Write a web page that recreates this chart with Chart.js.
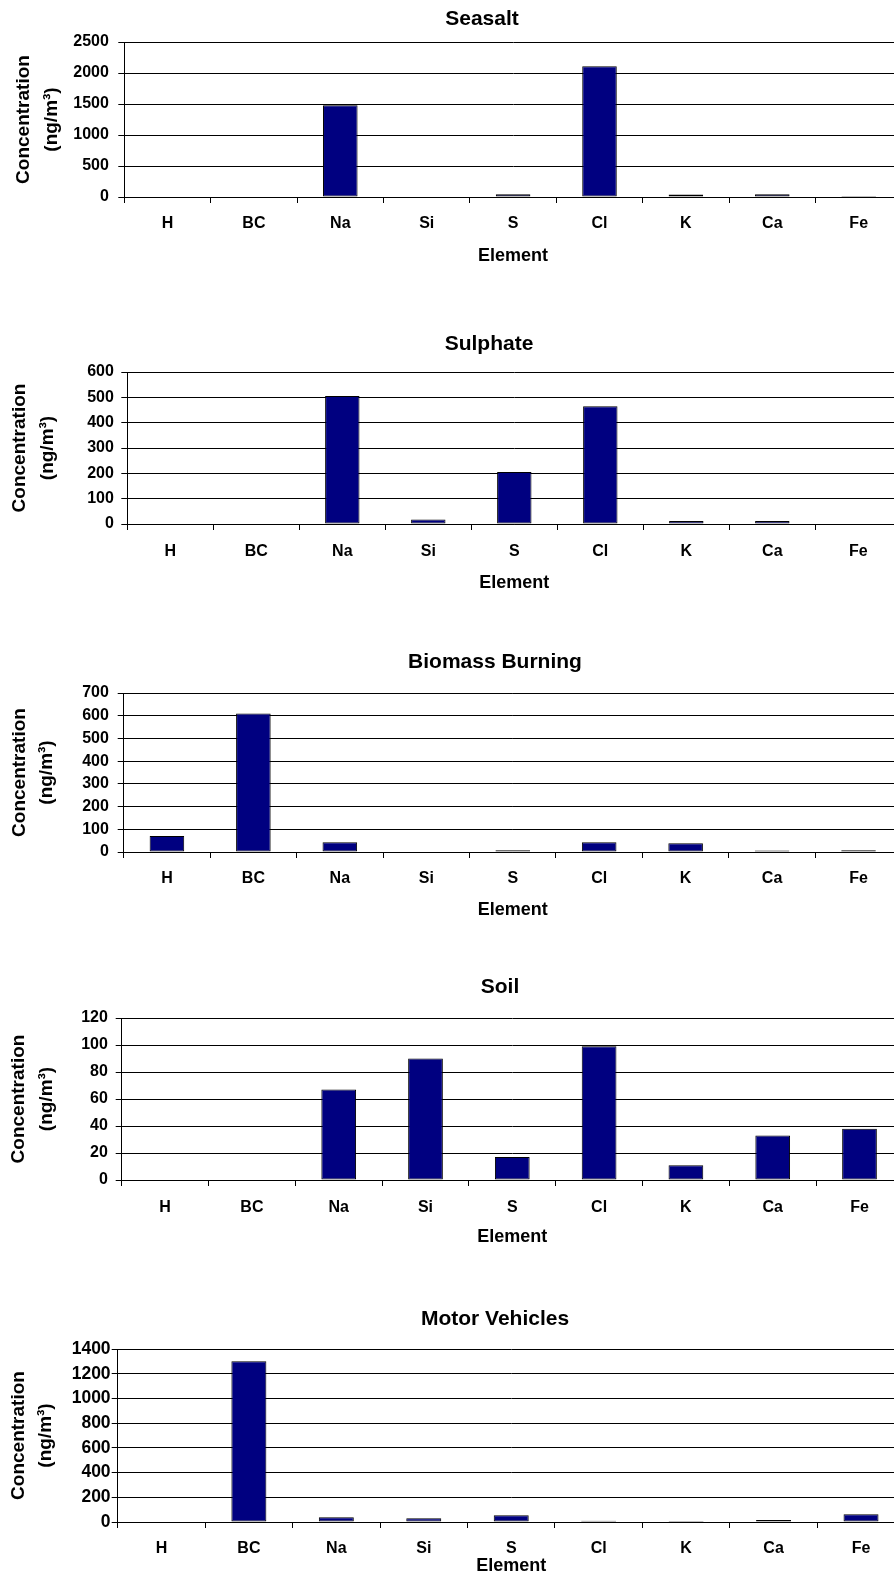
<!DOCTYPE html>
<html><head><meta charset="utf-8">
<script src="https://cdn.jsdelivr.net/npm/chart.js@4.4.1/dist/chart.umd.min.js"></script>
<style>
html,body{margin:0;padding:0;background:#fff;width:894px;height:1576px;overflow:hidden;position:relative;}
.panel{position:absolute;left:0;}
</style></head><body>
<script>
// ---- data ----
const elements = ['H','BC','Na','Si','S','Cl','K','Ca','Fe'];
const seasalt        = [0, 0, 1480, 0, 45, 2110, 40, 45, 15];
const sulphate       = [0, 0, 505, 18, 205, 465, 12, 12, 0];
const biomassBurning = [70, 610, 43, 0, 8, 43, 38, 7, 8];
const soil           = [0, 0, 67, 90, 17, 99, 11, 33, 38];
const motorVehicles  = [0, 1300, 38, 30, 54, 10, 8, 16, 62];

const seasaltTicks  = [0, 500, 1000, 1500, 2000, 2500];
const sulphateTicks = [0, 100, 200, 300, 400, 500, 600];
const biomassTicks  = [0, 100, 200, 300, 400, 500, 600, 700];
const soilTicks     = [0, 20, 40, 60, 80, 100, 120];
const motorTicks    = [0, 200, 400, 600, 800, 1000, 1200, 1400];

const panelTitles = ['Seasalt', 'Sulphate', 'Biomass Burning', 'Soil', 'Motor Vehicles'];
const yAxisTitle = ['Concentration', '(ng/m³)'];
const xAxisTitle = 'Element';

const seriesList = [seasalt, sulphate, biomassBurning, soil, motorVehicles];
const tickList = [seasaltTicks, sulphateTicks, biomassTicks, soilTicks, motorTicks];

// ---- layout (pixels on the page) ----
const layouts = [
  {titleX:482, titleY:19.5,  plotTop:42,   plotBottom:197,  plotLeft:124.3, catW:86.4,  xLabelY:224,  elemY:256, yTitleX:24,   yTickGap:16,   yTickFont:16},
  {titleX:489, titleY:344.5, plotTop:372,  plotBottom:524,  plotLeft:127.3, catW:86.0,  xLabelY:552,  elemY:583, yTitleX:20,   yTickGap:14,   yTickFont:16},
  {titleX:495, titleY:662.5, plotTop:693,  plotBottom:852,  plotLeft:123.7, catW:86.45, xLabelY:879,  elemY:910, yTitleX:19.5, yTickGap:15.4, yTickFont:16},
  {titleX:500, titleY:987,   plotTop:1018, plotBottom:1180, plotLeft:121.7, catW:86.8,  xLabelY:1208, elemY:1237, yTitleX:19,  yTickGap:14.4, yTickFont:16},
  {titleX:495, titleY:1319,  plotTop:1349, plotBottom:1522, plotLeft:117.7, catW:87.45, xLabelY:1549, elemY:1566, yTitleX:18.5, yTickGap:7.7, yTickFont:17.5}
];

Chart.defaults.font.family = "'Liberation Sans', Arial, sans-serif";
Chart.defaults.font.weight = 'bold';
Chart.defaults.color = '#000';

const TITLE_SIZE = 21, XTICK_SIZE = 16, XTITLE_SIZE = 18, YTITLE_SIZE = 19, YTITLE_LH = 1.45;

layouts.forEach((L, i) => {
  const top = Math.floor(L.titleY - 16);
  const bottom = Math.ceil(L.elemY + 13);
  const H = bottom - top;
  const W = Math.round(2 * L.titleX);
  const plotRight = L.plotLeft + 9 * L.catW;
  const div = document.createElement('div');
  div.className = 'panel';
  div.style.top = top + 'px';
  div.style.width = W + 'px';
  div.style.height = H + 'px';
  const cv = document.createElement('canvas');
  div.appendChild(cv);
  document.body.appendChild(div);
  const tLH = TITLE_SIZE * 1.2, xLH = XTICK_SIZE * 1.2, eLH = XTITLE_SIZE * 1.2, yLH = YTITLE_SIZE * YTITLE_LH;
  const ticks = tickList[i];
  new Chart(cv, {
    type: 'bar',
    data: {
      labels: elements,
      datasets: [{
        data: seriesList[i],
        backgroundColor: '#000080',
        borderColor: '#000000',
        borderWidth: 1,
        borderSkipped: false,
        barPercentage: 0.4,
        categoryPercentage: 1
      }]
    },
    options: {
      responsive: true,
      maintainAspectRatio: false,
      animation: false,
      layout: {padding: 0},
      plugins: {
        legend: {display: false},
        tooltip: {enabled: false},
        title: {
          display: true, text: panelTitles[i], color: '#000',
          font: {size: TITLE_SIZE, weight: 'bold', lineHeight: 1.2},
          padding: {top: L.titleY - top - tLH / 2, bottom: L.plotTop - L.titleY - tLH / 2}
        }
      },
      scales: {
        x: {
          grid: {display: true, drawOnChartArea: false, drawTicks: true, tickLength: 6, color: '#000', offset: true},
          border: {display: true, color: '#000', width: 1},
          ticks: {color: '#000', font: {size: XTICK_SIZE, weight: 'bold'}, padding: L.xLabelY - L.plotBottom - 6 - xLH / 2, maxRotation: 0, autoSkip: false},
          title: {display: true, text: xAxisTitle, color: '#000', font: {size: XTITLE_SIZE, weight: 'bold', lineHeight: 1.2},
                  padding: {top: 0, bottom: bottom - L.elemY - eLH / 2}},
          afterFit: s => { s.height = bottom - L.plotBottom; }
        },
        y: {
          min: ticks[0], max: ticks[ticks.length - 1],
          ticks: {stepSize: ticks[1] - ticks[0], color: '#000', font: {size: L.yTickFont, weight: 'bold'},
                  padding: L.yTickGap - 6.6, callback: v => String(v)},
          grid: {color: '#000', lineWidth: 1, tickLength: 6, drawTicks: true},
          border: {display: true, color: '#000', width: 1},
          title: {display: true, text: yAxisTitle, color: '#000', font: {size: YTITLE_SIZE, weight: 'bold', lineHeight: YTITLE_LH},
                  padding: {top: L.yTitleX - yLH / 2, bottom: 0}},
          afterFit: s => { s.width = L.plotLeft; }
        },
        pad: {
          type: 'linear', position: 'right', display: true,
          ticks: {display: false}, grid: {display: false}, border: {display: false}, title: {display: false},
          afterFit: s => { s.width = W - plotRight; }
        }
      }
    }
  });
});
</script>
</body></html>
